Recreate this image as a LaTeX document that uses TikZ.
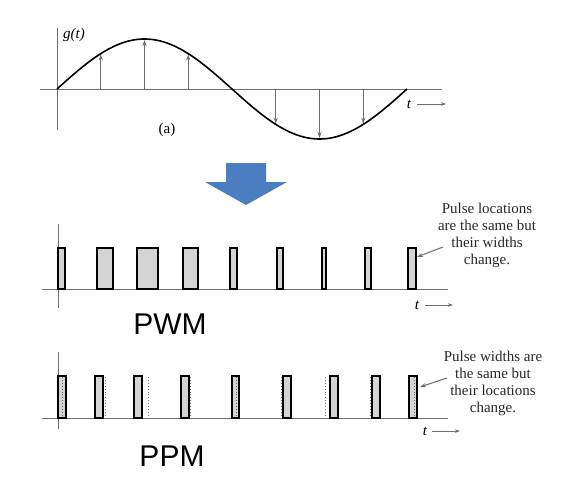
\documentclass[tikz,border=0pt]{standalone}
\usepackage{fontspec}
\setmainfont{Liberation Serif}
\newfontfamily\arialfont{Liberation Sans}
\usetikzlibrary{arrows.meta}
\definecolor{axisgray}{RGB}{110,110,110}
\definecolor{pulsefill}{RGB}{212,212,212}
\definecolor{bigarrow}{RGB}{74,126,193}
\definecolor{notecol}{RGB}{40,40,40}
\begin{document}
\begin{tikzpicture}[x=1pt,y=-1pt,
  axis/.style={draw=axisgray,line width=1pt},
  sample/.style={draw=axisgray,line width=1pt,-{Stealth[length=6pt,width=4pt]}},
  pulse/.style={draw=black,line width=1.3pt,fill=pulsefill},
  origpos/.style={draw=axisgray,line width=0.9pt,dotted},
  note/.style={align=center,font=\fontsize{15}{17}\selectfont,text=notecol,inner sep=0pt},
  notearrow/.style={draw=axisgray,line width=1pt,-{Stealth[length=6pt,width=4pt]}},
  tlabel/.style={font=\fontsize{15}{16}\selectfont\itshape,inner sep=0pt},
  tarrow/.style={draw=axisgray,line width=1pt,-{Stealth[length=5pt,width=3.5pt]}},
  biglabel/.style={font=\arialfont\fontsize{30}{32}\selectfont,inner sep=0pt}]
\useasboundingbox (0,0) rectangle (580,499);
% ---------- (a) sampled sine ----------
\draw[axis] (57,28) -- (57,130);
\draw[axis] (40,89) -- (442,89);
\foreach \k in {1,2,3,5,6,7} {
  \draw[sample] ({57+43.75*\k},89) -- ({57+43.75*\k},{89-49*sin(45*\k)});
}
\draw[black,line width=1.6pt] plot[domain=0:350,samples=120,smooth] ({57+\x},{89-50*sin(\x/350*360)});
\node[tlabel,anchor=west] (gt) at (63,35) {g(t)};
\node[tlabel] (t1) at (409,104) {t};
\coordinate (t1a) at (417,104);
\coordinate (t1b) at (446,104);
\draw[tarrow] (t1a) -- (t1b);
\node[font=\fontsize{15}{16}\selectfont,inner sep=0pt] (a) at (167,130) {(a)};
% ---------- big blue arrow ----------
\fill[bigarrow] (226,163) -- (266,163) -- (266,182) -- (287,182) -- (246,205) -- (205,182) -- (226,182) -- cycle;
% ---------- PWM ----------
\draw[axis] (58,224) -- (58,308);
\draw[axis] (42,289) -- (448,289);
\foreach \l/\r in {58/65,97/113,137/158,183/198,230/237,277/283,322/326,365/371,408/416} {
  \draw[pulse] (\l,248) rectangle (\r,289);
}
\coordinate (pwmtip) at (417,257);
\node[note] (pwmnote) at (487,235) {Pulse locations\\are the same but\\their widths\\change.};
\draw[notearrow] (443,247) -- (pwmtip);
\node[tlabel] (t2) at (417,305) {t};
\coordinate (t2a) at (425,305);
\coordinate (t2b) at (453,305);
\draw[tarrow] (t2a) -- (t2b);
\node[biglabel] (pwm) at (170,324) {PWM};
% ---------- PPM ----------
\draw[axis] (58,352) -- (58,429);
\draw[axis] (42,418) -- (448,418);
\foreach \l/\r in {58/66,95/103,134/142,181/189,232/239,283/291,330/338,372/380,409/417} {
  \draw[pulse] (\l,376) rectangle (\r,418);
}
\foreach \d in {62,105,148,190,236,281,325,370,414} {
  \draw[origpos] (\d,377) -- (\d,417);
}
\coordinate (ppmtip) at (420,387);
\node[note] (ppmnote) at (493,383) {Pulse widths are\\the same but\\their locations\\change.};
\draw[notearrow] (447,378) -- (ppmtip);
\node[tlabel] (t3) at (425,431) {t};
\coordinate (t3a) at (432,431);
\coordinate (t3b) at (460,431);
\draw[tarrow] (t3a) -- (t3b);
\node[biglabel] (ppm) at (172,456) {PPM};
\end{tikzpicture}
\end{document}
